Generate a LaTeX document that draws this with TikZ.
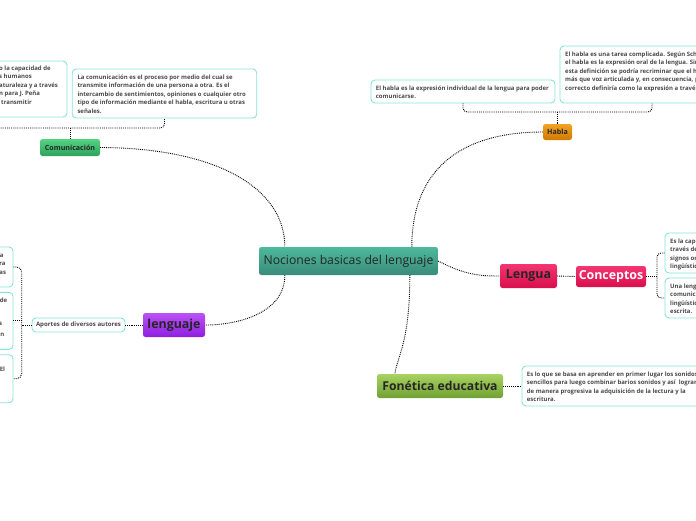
\documentclass[tikz,border=0pt]{standalone}
\usepackage{fontspec}
\setmainfont{Open Sans}
\usetikzlibrary{calc}
\definecolor{tb}{HTML}{86E3D8}
\definecolor{tx}{HTML}{4A4A4A}
\definecolor{dk}{HTML}{262626}
\definecolor{cenT}{HTML}{4DB99C}
\definecolor{cenB}{HTML}{3A8B79}
\definecolor{comT}{HTML}{55D384}
\definecolor{comB}{HTML}{2EA25B}
\definecolor{habT}{HTML}{F2A224}
\definecolor{habB}{HTML}{CF7A02}
\definecolor{pkT}{HTML}{F23671}
\definecolor{pkB}{HTML}{D80F4C}
\definecolor{fnT}{HTML}{A8D262}
\definecolor{fnB}{HTML}{71A033}
\definecolor{puT}{HTML}{BB52F6}
\definecolor{puB}{HTML}{8E1FDE}
\newcommand{\fl}{\rule{0pt}{7pt}}
\tikzset{
  conn/.style={densely dotted, line width=0.9pt, black},
  tbox/.style={draw=tb, line width=0.9pt, rounded corners=4pt, fill=white, inner sep=0pt},
  ttxt/.style={font=\fontsize{6}{8.5}\selectfont\bfseries, text=tx, align=left, inner sep=0pt, anchor=north west},
  frag/.style={font=\fontsize{6}{8.5}\selectfont\bfseries, text=tx, inner sep=0pt, anchor=base east},
  topic/.style={rounded corners=2.5pt, inner sep=0pt, text=dk},
}
\begin{document}
\begin{tikzpicture}[x=1pt,y=-1pt]
\useasboundingbox (0,0) rectangle (696,520);
\fill[white] (0,0) rectangle (696,520);
\clip (0,0) rectangle (696,520);

% ---------- text boxes ----------
\node[tbox, minimum width=186, minimum height=56] (cb1) at (-26,89) {};
\node[tbox, minimum width=184.5, minimum height=49] (cb2) at (164.5,93.5) {};
\node[tbox, minimum width=184, minimum height=23] (hb1) at (463,91.5) {};
\node[tbox, minimum width=184, minimum height=57] (hb2) at (652,74.5) {};
\node[tbox, minimum width=185, minimum height=40] (cp1) at (757.5,253) {};
\node[tbox, minimum width=185, minimum height=40] (cp2) at (757.5,298) {};
\node[tbox, minimum width=184, minimum height=40] (fb) at (614,386) {};
\node[tbox, minimum width=183, minimum height=40] (lb1) at (-78.5,267) {};
\node[tbox, minimum width=183, minimum height=57] (lb2) at (-78.5,320.8) {};
\node[tbox, minimum width=183, minimum height=48] (lb3) at (-78.5,378.7) {};
\node[tbox, minimum width=93, minimum height=14] (ap) at (78.5,325) {};

% ---------- texts in boxes (first baseline = y + 7) ----------
\node[ttxt] (t1) at (-1,63.2) {\fl o la capacidad de\\s humanos\\aturaleza y a través\\n para J. Peña\\\hspace{2pt}transmitir};
\node[ttxt] (t2) at (77.3,72.2) {\fl La comunicación es el proceso por medio del cual se\\transmite información de una persona a otra. Es el\\intercambio de sentimientos, opiniones o cualquier otro\\tipo de información mediante el habla, escritura u otras\\señales.};
\node[ttxt] (t3) at (375.7,83.2) {\fl El habla es la expresión individual de la lengua para poder\\comunicarse.};
\node[ttxt] (t4) at (565,49.2) {\fl El habla es una tarea complicada. Según Sch\\el habla es la expresión oral de la lengua. Sin\\esta definición se podría recriminar que el h\\más que voz articulada y, en consecuencia, p\\correcto definiría como la expresión a travé};
\node[ttxt] (t5) at (670,235.8) {\fl Es la cap\\través de\\signos or\\lingüístic};
\node[ttxt] (t6) at (670,280.8) {\fl Una leng\\comunic\\lingüístic\\escrita.};
\node[ttxt] (t7) at (526.7,368.8) {\fl Es lo que se basa en aprender en primer lugar los sonidos\\sencillos para luego combinar barios sonidos y así\ \ lograr\\de manera progresiva la adquisición de la lectura y la\\escritura.};
\node[frag] (f1) at (3.6,257) {a};
\node[frag] (f2) at (5.8,265.3) {ra};
\node[frag] (f3) at (6.2,274.2) {as};
\node[frag] (f4) at (7.4,302.2) {de};
\node[frag] (f5) at (2.2,325.2) {s};
\node[frag] (f6) at (4.5,336.2) {n};
\node[frag] (f7) at (5.2,371.6) {El};
\node[font=\fontsize{6.1}{7}\selectfont\bfseries, text=tx, inner sep=0pt] (apt) at (ap.center) {Aportes de diversos autores};

% ---------- topics ----------
\node[topic, minimum width=179, minimum height=28, top color=cenT, bottom color=cenB, font=\fontsize{12.2}{14}\selectfont] (cen) at (348.5,261) {Nociones basicas del lenguaje};
\node[topic, minimum width=60, minimum height=17, top color=comT, bottom color=comB, font=\fontsize{7.1}{8}\selectfont\bfseries] (com) at (70,147.5) {Comunicación};
\node[topic, minimum width=29, minimum height=16, top color=habT, bottom color=habB, font=\fontsize{7.1}{8}\selectfont\bfseries] (hab) at (557.5,132) {Habla};
\node[topic, minimum width=57, minimum height=24, top color=pkT, bottom color=pkB, font=\fontsize{12.4}{14}\selectfont\bfseries] (len) at (528.5,276) {Lengua};
\node[topic, minimum width=70, minimum height=21, top color=pkT, bottom color=pkB, text=white, font=\fontsize{12.4}{14}\selectfont\bfseries] (con) at (611,276.5) {Conceptos};
\node[topic, minimum width=126, minimum height=24, top color=fnT, bottom color=fnB, font=\fontsize{12.2}{14}\selectfont\bfseries] (fon) at (440,386) {Fonética educativa};
\node[topic, minimum width=62, minimum height=24, top color=puT, bottom color=puB, font=\fontsize{12.4}{14}\selectfont\bfseries] (lgj) at (174,325) {lenguaje};

% ---------- junction coordinates ----------
\coordinate (cj) at (70,128);
\coordinate (hj) at (557.5,112);
\coordinate (kj) at (657,276.5);
\coordinate (aj) at (21.7,325);
\coordinate (cenA) at ($(cen.north west)+(26,0)$);
\coordinate (cenBB) at ($(cen.north west)+(153,0)$);
\coordinate (cenC) at ($(cen.south west)+(26,0)$);
\coordinate (cenD) at ($(cen.south west)+(151,0)$);
\coordinate (fonT) at ($(fon.north west)+(18,0)$);

% ---------- connectors ----------
\draw[conn] (com.east) .. controls (220,148) and (285,190) .. (cenA);
\draw[conn] (hab.west) .. controls (460,132) and (412,170) .. (cenBB);
\draw[conn] (cenC) .. controls (285,312) and (240,325) .. (lgj.east);
\draw[conn] (cenD) .. controls (410,340) and (398,355) .. (fonT);
\draw[conn] (cen.east) .. controls (465,275) and (480,276) .. (len.west);
\draw[conn] (len.east) -- (con.west);
\draw[conn] (fon.east) -- (fb.west);
\draw[conn] (lgj.west) -- (ap.east);

\draw[conn, rounded corners=4pt] (cb1.south) |- (cj) -| (cb2.south);
\draw[conn] (cj) -- (com.north);
\draw[conn, rounded corners=4pt] (hb1.south) |- (hj) -| (hb2.south);
\draw[conn] (hj) -- (hab.north);
\draw[conn] (con.east) -- (kj);
\draw[conn, rounded corners=4pt] (cp1.west) -| (kj) |- (cp2.west);
\draw[conn] (ap.west) -- (aj);
\draw[conn, rounded corners=5pt] (lb1.east) -| (aj) |- (lb3.east);
\draw[conn] (lb2.east) -- (lb2.east -| aj);
\end{tikzpicture}
\end{document}
